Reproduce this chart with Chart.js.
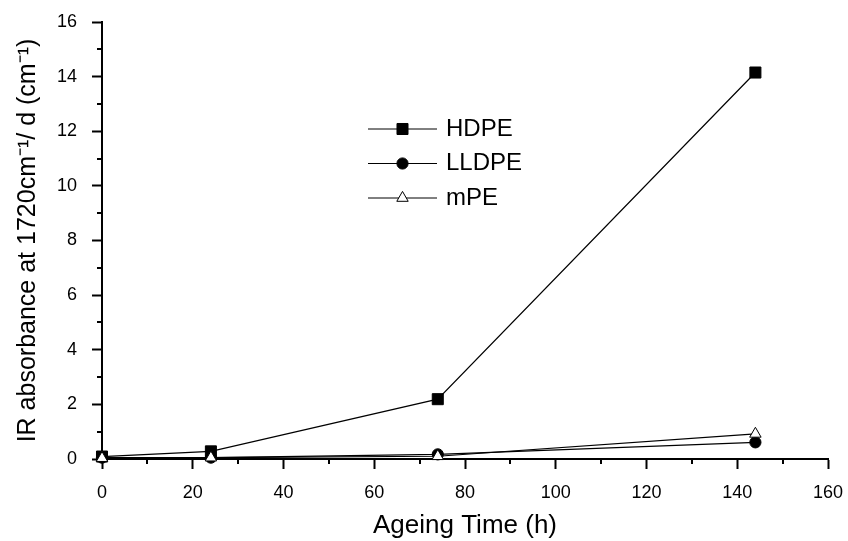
<!DOCTYPE html>
<html>
<head>
<meta charset="utf-8">
<script src="https://cdn.jsdelivr.net/npm/chart.js@4/dist/chart.umd.min.js"></script>
<style>
  html, body { margin: 0; padding: 0; background: #fff; }
  #c { display: block; }
</style>
</head>
<body>
<canvas id="c" width="848" height="541"></canvas>
<script>
// Ageing time (h) at which the samples were measured
const hours = [0, 24, 74, 144];

// Carbonyl index (IR absorbance at 1720 cm-1 / thickness) per material
const hdpe  = [0.09, 0.28, 2.19, 14.15];
const lldpe = [0.05, 0.05, 0.17, 0.61];
const mpe   = [0.03, 0.05, 0.10, 0.92];

const seriesNames = ['HDPE', 'LLDPE', 'mPE'];

// Labelled (major) and unlabelled (minor) tick values
const xMajorTicks = [0, 20, 40, 60, 80, 100, 120, 140, 160];
const yMajorTicks = [0, 2, 4, 6, 8, 10, 12, 14, 16];
const xMinorTicks = [10, 30, 50, 70, 90, 110, 130, 150];
const yMinorTicks = [1, 3, 5, 7, 9, 11, 13, 15];

const FONT = '"Liberation Sans", Arial, Helvetica, sans-serif';

const toPoints = vals => hours.map((h, i) => ({ x: h, y: vals[i] }));

// Keep the plot area fixed: no extra room reserved for the end labels
const fixSize = (prop, size) => s => {
  s[prop] = size;
  s.paddingTop = 0;
  s.paddingBottom = 0;
  s.paddingLeft = 0;
  s.paddingRight = 0;
};

// Short unlabelled ticks between the labelled ones
const minorTicks = {
  id: 'minorTicks',
  afterDraw(chart, args, opts) {
    const { ctx, chartArea: a, scales: { x, y } } = chart;
    ctx.save();
    ctx.strokeStyle = '#000';
    ctx.lineWidth = opts.width;
    xMinorTicks.forEach(v => {
      const px = Math.round(x.getPixelForValue(v));
      ctx.beginPath();
      ctx.moveTo(px, a.bottom);
      ctx.lineTo(px, a.bottom + opts.length);
      ctx.stroke();
    });
    yMinorTicks.forEach(v => {
      const py = Math.round(y.getPixelForValue(v));
      ctx.beginPath();
      ctx.moveTo(a.left, py);
      ctx.lineTo(a.left - opts.length, py);
      ctx.stroke();
    });
    ctx.restore();
  }
};

// Legend drawn as line - marker - line, followed by the series name
const lineLegend = {
  id: 'lineLegend',
  afterDraw(chart, args, opts) {
    const ctx = chart.ctx;
    ctx.save();
    chart.data.datasets.forEach((ds, i) => {
      const y = opts.top + i * opts.gap;
      const x0 = opts.left;
      const x1 = opts.left + opts.lineLength;
      ctx.strokeStyle = '#000';
      ctx.lineWidth = 1;
      ctx.beginPath();
      ctx.moveTo(x0, y);
      ctx.lineTo(x1, y);
      ctx.stroke();
      ctx.fillStyle = ds.pointBackgroundColor || ds.backgroundColor;
      ctx.strokeStyle = ds.borderColor;
      Chart.helpers.drawPoint(ctx, {
        pointStyle: ds.pointStyle,
        radius: ds.pointRadius,
        borderWidth: 1,
        rotation: 0
      }, (x0 + x1) / 2, y);
      ctx.fillStyle = '#000';
      ctx.font = opts.fontSize + 'px ' + FONT;
      ctx.textBaseline = 'middle';
      ctx.textAlign = 'left';
      ctx.fillText(ds.label, x1 + opts.textGap, y);
    });
    ctx.restore();
  }
};

const common = {
  borderColor: '#000',
  borderWidth: 1.2,
  pointBorderColor: '#000',
  pointBorderWidth: 1,
  fill: false,
  tension: 0,
  clip: false
};

new Chart(document.getElementById('c'), {
  type: 'line',
  data: {
    datasets: [
      Object.assign({}, common, {
        label: seriesNames[0], data: toPoints(hdpe),
        pointStyle: 'rect', pointRadius: 7.8,
        backgroundColor: '#000', pointBackgroundColor: '#000', order: 3
      }),
      Object.assign({}, common, {
        label: seriesNames[1], data: toPoints(lldpe),
        pointStyle: 'circle', pointRadius: 5.6,
        backgroundColor: '#000', pointBackgroundColor: '#000', order: 2
      }),
      Object.assign({}, common, {
        label: seriesNames[2], data: toPoints(mpe),
        pointStyle: 'triangle', pointRadius: 6.6,
        backgroundColor: '#fff', pointBackgroundColor: '#fff', order: 1
      })
    ]
  },
  options: {
    responsive: false,
    animation: false,
    devicePixelRatio: 1,
    layout: { padding: { left: 0, right: 20, top: 22, bottom: 0 } },
    plugins: {
      legend: { display: false },
      tooltip: { enabled: false },
      minorTicks: { length: 5, width: 2 },
      lineLegend: { left: 368, top: 129, gap: 34.5, lineLength: 69, textGap: 9, fontSize: 24 }
    },
    scales: {
      x: {
        type: 'linear',
        min: 0,
        max: 160,
        afterBuildTicks: s => { s.ticks = xMajorTicks.map(v => ({ value: v })); },
        afterFit: fixSize('height', 82),
        border: { color: '#000', width: 2 },
        grid: { drawOnChartArea: false, tickLength: 10, tickColor: '#000', tickWidth: 2 },
        ticks: {
          color: '#000', font: { family: FONT, size: 18 }, padding: 13,
          maxRotation: 0, autoSkip: false
        },
        title: {
          display: true, text: 'Ageing Time (h)', color: '#000',
          font: { family: FONT, size: 26 }, padding: { top: 0, bottom: 0 }
        }
      },
      y: {
        type: 'linear',
        min: 0,
        max: 16,
        afterBuildTicks: s => { s.ticks = yMajorTicks.map(v => ({ value: v })); },
        afterFit: fixSize('width', 102),
        border: { color: '#000', width: 2 },
        grid: { drawOnChartArea: false, tickLength: 10, tickColor: '#000', tickWidth: 2 },
        ticks: { color: '#000', font: { family: FONT, size: 18 }, padding: 15, autoSkip: false },
        title: {
          display: true, text: 'IR absorbance at 1720cm\u207B\u00B9/ d (cm\u207B\u00B9)', color: '#000',
          font: { family: FONT, size: 25 }, padding: { top: 13, bottom: 0 }
        }
      }
    }
  },
  plugins: [minorTicks, lineLegend]
});
</script>
</body>
</html>
